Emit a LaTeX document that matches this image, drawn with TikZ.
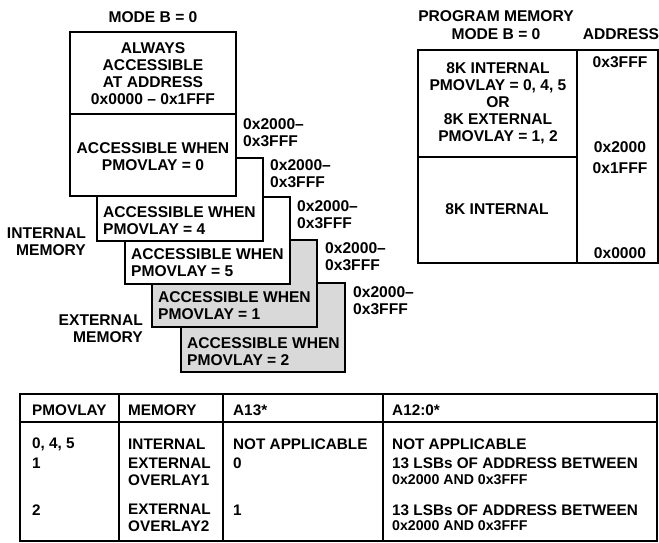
\documentclass[tikz,border=0pt]{standalone}
\usepackage{fontspec}
\usepackage{graphicx}
\setmainfont{Liberation Sans}
\begin{document}
\begin{tikzpicture}[x=1pt,y=-1pt,
  mem/.style={draw=black, line width=1.2pt, fill=white, inner sep=0pt, outer sep=0pt, anchor=north west},
  ext/.style={mem, fill=black!15},
  cell/.style={draw=black, line width=1.2pt, inner sep=0pt, outer sep=0pt, anchor=north west},
  lbl/.style={inner sep=0pt, font=\bfseries\fontsize{15.6}{17}\selectfont},
  lft/.style={lbl, align=left, anchor=west},
  rgt/.style={lbl, align=right, anchor=east},
  ctr/.style={lbl, align=center},
  tx/.style={inner sep=0pt, font=\bfseries\fontsize{15.3}{17}\selectfont, align=left, anchor=west},
  txs/.style={tx}
]
\useasboundingbox (0,0) rectangle (659,542);

% ---- overlay stack (back to front)
\node[ext, minimum width=164pt, minimum height=89pt] (p2) at (181,283) {};
\node[ext, minimum width=165pt, minimum height=87pt] (p1) at (152,240) {};
\node[mem, minimum width=165pt, minimum height=87pt] (p5) at (125,197) {};
\node[mem, minimum width=166pt, minimum height=83pt] (p4) at (97,158) {};
\node[mem, minimum width=166pt, minimum height=82pt] (p0) at (70,114) {};
\node[mem, minimum width=166pt, minimum height=82pt, anchor=south west] (always) at (70,114) {};

\node[ctr] (title) at (153,17) {MODE B = 0};
\node[ctr] (talways) at (153,73.5) {ALWAYS\\ACCESSIBLE\\AT ADDRESS\\0x0000 -- 0x1FFF};
\node[ctr] (t0) at (153,157) {ACCESSIBLE WHEN\\PMOVLAY = 0};
\node[lft] (t4) at (103,220.5) {ACCESSIBLE WHEN\\PMOVLAY = 4};
\node[lft] (t5) at (131,262.5) {ACCESSIBLE WHEN\\PMOVLAY = 5};
\node[lft] (t1) at (158,306) {ACCESSIBLE WHEN\\PMOVLAY = 1};
\node[lft] (t2) at (187,351.5) {ACCESSIBLE WHEN\\PMOVLAY = 2};

\node[lft] (a0) at (243,133) {0x2000--\\0x3FFF};
\node[lft] (a4) at (270,174) {0x2000--\\0x3FFF};
\node[lft] (a5) at (297,215) {0x2000--\\0x3FFF};
\node[lft] (a1) at (325,256.5) {0x2000--\\0x3FFF};
\node[lft] (a2) at (353,300.5) {0x2000--\\0x3FFF};

\node[rgt] (intmem) at (86,241.5) {INTERNAL\\MEMORY};
\node[rgt] (extmem) at (143,328.5) {EXTERNAL\\MEMORY};

% ---- program memory map
\node[ctr] (pmt) at (496,16) {PROGRAM MEMORY};
\node[ctr] (pmmode) at (496,34) {MODE B = 0};
\node[ctr] (pmaddr) at (621,34) {ADDRESS};
\node[mem, minimum width=159pt, minimum height=107pt] (pmhi) at (418,50) {};
\node[mem, minimum width=159pt, minimum height=106pt] (pmlo) at (418,157) {};
\node[mem, minimum width=81pt, minimum height=213pt] (pmcol) at (577,50) {};
\node[ctr] (thi) at (498,103) {8K INTERNAL\\PMOVLAY = 0, 4, 5\\OR\\8K EXTERNAL\\PMOVLAY = 1, 2};
\node[ctr] (tlo) at (497,209) {8K INTERNAL};
\node[ctr] (ad1) at (620,62) {0x3FFF};
\node[ctr] (ad2) at (620,147) {0x2000};
\node[ctr] (ad3) at (620,168) {0x1FFF};
\node[ctr] (ad4) at (620,253) {0x0000};

% ---- table
\node[cell, minimum width=99pt, minimum height=28pt] (h1) at (20,394) {};
\node[cell, minimum width=104pt, minimum height=28pt] (h2) at (119,394) {};
\node[cell, minimum width=160pt, minimum height=28pt] (h3) at (223,394) {};
\node[cell, minimum width=274pt, minimum height=28pt] (h4) at (383,394) {};
\node[cell, minimum width=99pt, minimum height=119pt] (b1) at (20,422) {};
\node[cell, minimum width=104pt, minimum height=119pt] (b2) at (119,422) {};
\node[cell, minimum width=160pt, minimum height=119pt] (b3) at (223,422) {};
\node[cell, minimum width=274pt, minimum height=119pt] (b4) at (383,422) {};

\node[tx] (th1) at (32,410) {PMOVLAY};
\node[tx] (th2) at (128,410) {MEMORY};
\node[tx] (th3) at (233,410) {A13*};
\node[tx] (th4) at (392,410) {A12:0*};

\node[tx] (r1c1) at (32,444) {0, 4, 5};
\node[tx] (r1c2) at (128,444) {INTERNAL};
\node[tx] (r1c3) at (233,444) {NOT APPLICABLE};
\node[tx] (r1c4) at (392,444) {NOT APPLICABLE};

\node[tx] (r2c1) at (32,463) {1};
\node[tx] (r2c2) at (128,471.5) {EXTERNAL\\OVERLAY1};
\node[tx] (r2c3) at (233,463) {0};
\node[tx] (r2c4) at (392,463) {13 LSBs OF ADDRESS BETWEEN};
\node[txs] (r2c4b) at (392,480) {\scalebox{0.925}{0x2000 AND 0x3FFF}};

\node[tx] (r3c1) at (32,510) {2};
\node[tx] (r3c2) at (128,518) {EXTERNAL\\OVERLAY2};
\node[tx] (r3c3) at (233,510) {1};
\node[tx] (r3c4) at (392,510) {13 LSBs OF ADDRESS BETWEEN};
\node[txs] (r3c4b) at (392,526) {\scalebox{0.925}{0x2000 AND 0x3FFF}};
\end{tikzpicture}
\end{document}
